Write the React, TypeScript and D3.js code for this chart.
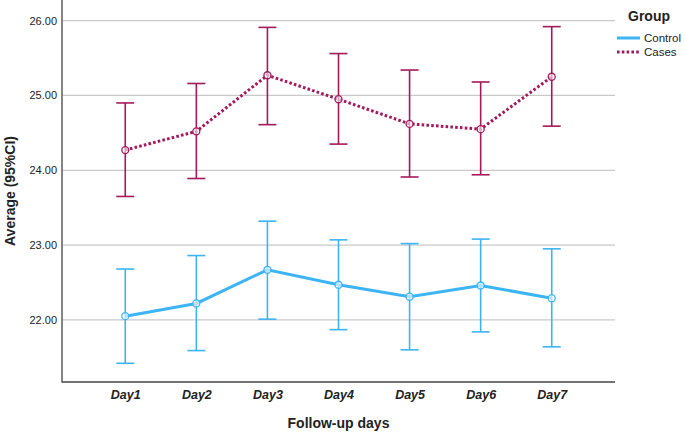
import React, { useEffect, useRef } from "react";
import * as d3 from "d3";

const days = ["Day1", "Day2", "Day3", "Day4", "Day5", "Day6", "Day7"];

const controlMean = [22.05, 22.22, 22.67, 22.47, 22.31, 22.46, 22.29];
const controlLow = [21.42, 21.59, 22.01, 21.87, 21.6, 21.84, 21.64];
const controlHigh = [22.68, 22.86, 23.32, 23.07, 23.02, 23.08, 22.95];

const casesMean = [24.27, 24.52, 25.27, 24.95, 24.62, 24.55, 25.25];
const casesLow = [23.65, 23.89, 24.61, 24.35, 23.91, 23.94, 24.59];
const casesHigh = [24.9, 25.16, 25.91, 25.56, 25.34, 25.18, 25.92];

const yTicks = [22, 23, 24, 25, 26];

const groups = [
  { name: "Control", mean: controlMean, low: controlLow, high: controlHigh, color: "#3db4f4", dash: null },
  { name: "Cases", mean: casesMean, low: casesLow, high: casesHigh, color: "#a3195b", dash: "2.6,2.2" },
];

const App: React.FC = () => {
  const ref = useRef<SVGSVGElement>(null);

  useEffect(() => {
    if (!ref.current) return;
    const svg = d3.select(ref.current);
    svg.selectAll("*").remove();

    const left = 62, right = 615, top = 0, bottom = 382;
    const font = "'Liberation Sans', Arial, sans-serif";

    const x = d3.scalePoint<string>().domain(days).range([left, right]).padding(0.89);
    const y = d3.scaleLinear().domain([21.17, 26.276]).range([bottom, top]);

    // gridlines
    svg.append("g")
      .selectAll("line")
      .data(yTicks)
      .enter()
      .append("line")
      .attr("x1", left)
      .attr("x2", right)
      .attr("y1", (d) => y(d))
      .attr("y2", (d) => y(d))
      .attr("stroke", "#c9c9c9")
      .attr("stroke-width", 1.3);

    // y axis
    const yAxis = svg.append("g")
      .attr("transform", `translate(${left},0)`)
      .call(d3.axisLeft(y).tickValues(yTicks).tickFormat(d3.format(".2f")).tickSize(0).tickPadding(5));
    yAxis.select(".domain").remove();
    yAxis.selectAll("text").attr("font-family", font).attr("font-size", 11).attr("fill", "#222");

    // x axis
    const xAxis = svg.append("g")
      .attr("transform", `translate(0,${bottom})`)
      .call(d3.axisBottom(x).tickSize(0).tickPadding(8));
    xAxis.select(".domain").remove();
    xAxis.selectAll("text")
      .attr("font-family", font)
      .attr("font-size", 12.5)
      .attr("font-weight", "bold")
      .attr("font-style", "italic")
      .attr("fill", "#222");

    svg.append("line")
      .attr("x1", left).attr("x2", left).attr("y1", top).attr("y2", bottom + 0.5)
      .attr("stroke", "#444").attr("stroke-width", 1.3);
    svg.append("line")
      .attr("x1", left).attr("x2", right).attr("y1", bottom).attr("y2", bottom)
      .attr("stroke", "#444").attr("stroke-width", 1.3);

    const cap = 9;
    groups.forEach((g) => {
      const eb = svg.append("g").attr("stroke", g.color).attr("stroke-width", 1.6).attr("fill", "none");
      days.forEach((d, i) => {
        const cx = x(d) as number;
        eb.append("line").attr("x1", cx).attr("x2", cx).attr("y1", y(g.low[i])).attr("y2", y(g.high[i]));
        eb.append("line").attr("x1", cx - cap).attr("x2", cx + cap).attr("y1", y(g.low[i])).attr("y2", y(g.low[i]));
        eb.append("line").attr("x1", cx - cap).attr("x2", cx + cap).attr("y1", y(g.high[i])).attr("y2", y(g.high[i]));
      });

      const line = d3.line<number>().x((_, i) => x(days[i]) as number).y((v) => y(v));
      const path = svg.append("path")
        .datum(g.mean)
        .attr("d", line)
        .attr("fill", "none")
        .attr("stroke", g.color)
        .attr("stroke-width", 3);
      if (g.dash) path.attr("stroke-dasharray", g.dash);

      svg.append("g")
        .selectAll("circle")
        .data(g.mean)
        .enter()
        .append("circle")
        .attr("cx", (_, i) => x(days[i]) as number)
        .attr("cy", (v) => y(v))
        .attr("r", 3.5)
        .attr("fill", "white")
        .attr("fill-opacity", 0.6)
        .attr("stroke", g.color)
        .attr("stroke-width", 1.3);
    });

    // axis titles
    svg.append("text")
      .attr("x", (left + right) / 2)
      .attr("y", 428)
      .attr("text-anchor", "middle")
      .attr("font-family", font)
      .attr("font-size", 14)
      .attr("font-weight", "bold")
      .attr("fill", "#222")
      .text("Follow-up days");

    svg.append("text")
      .attr("transform", `translate(15,${(top + bottom) / 2}) rotate(-90)`)
      .attr("text-anchor", "middle")
      .attr("font-family", font)
      .attr("font-size", 14)
      .attr("font-weight", "bold")
      .attr("fill", "#222")
      .text("Average (95%CI)");

    // legend
    const lg = svg.append("g");
    lg.append("text")
      .attr("x", 628)
      .attr("y", 21)
      .attr("font-family", font)
      .attr("font-size", 14)
      .attr("font-weight", "bold")
      .attr("fill", "#222")
      .text("Group");
    groups.forEach((g, i) => {
      const ly = 38 + i * 14;
      const l = lg.append("line")
        .attr("x1", 617).attr("x2", 640).attr("y1", ly).attr("y2", ly)
        .attr("stroke", g.color).attr("stroke-width", 3);
      if (g.dash) l.attr("stroke-dasharray", g.dash);
      lg.append("text")
        .attr("x", 644)
        .attr("y", ly + 4)
        .attr("font-family", font)
        .attr("font-size", 11.5)
        .attr("fill", "#222")
        .text(g.name);
    });
  }, []);

  return (
    <svg
      ref={ref}
      width={685}
      height={433}
      style={{ position: "absolute", left: 0, top: 0, background: "white" }}
    />
  );
};

export default App;
